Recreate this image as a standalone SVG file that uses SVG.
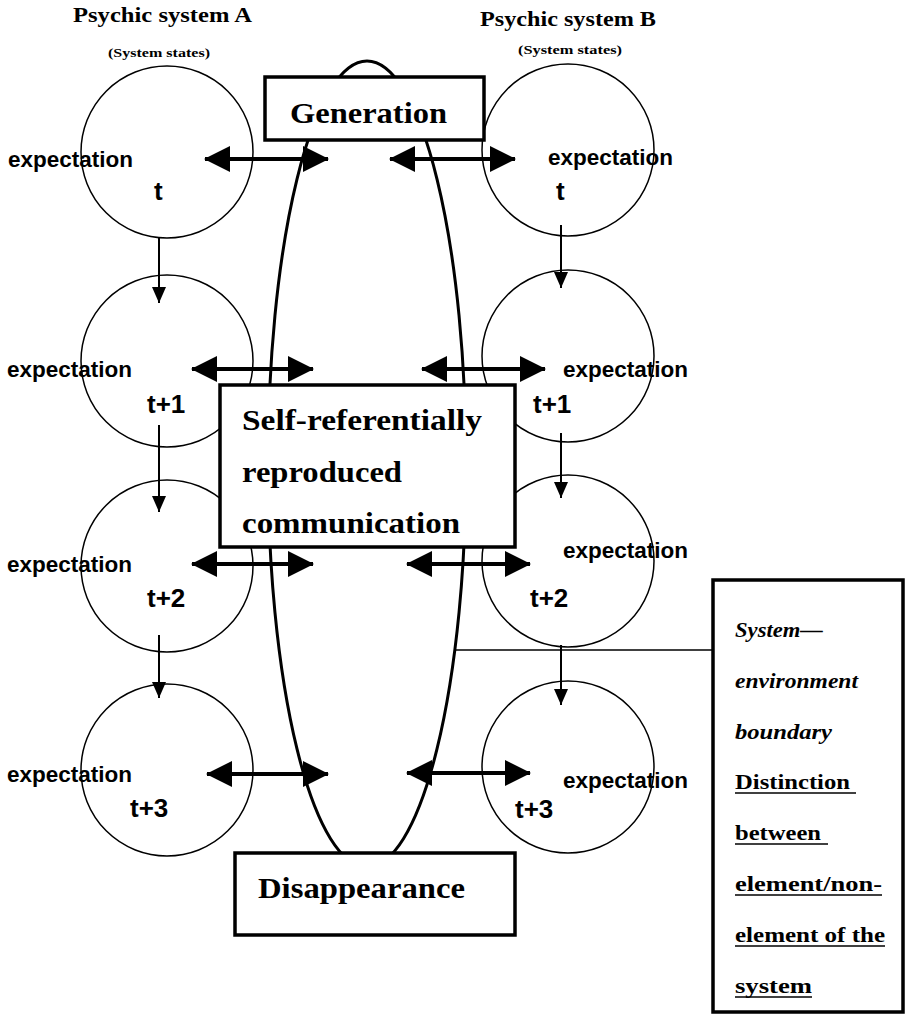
<svg xmlns="http://www.w3.org/2000/svg" width="906" height="1015" viewBox="0 0 906 1015">
  <style>
    .serif { font-family: "Liberation Serif", "Times New Roman", serif; font-weight: bold; fill: #000; }
    .sans { font-family: "Liberation Sans", Arial, sans-serif; font-weight: bold; fill: #000; }
    .state { fill: none; stroke: #000; stroke-width: 1.5; }
    .box { fill: #fff; stroke: #000; stroke-width: 3.5; }
    .lens { fill: none; stroke: #000; stroke-width: 3; }
    .flow { stroke: #000; stroke-width: 2; fill: none; }
    .link { stroke: #000; stroke-width: 4; fill: none; }
    .ul { stroke: #000; stroke-width: 1.5; }
  </style>
  <defs>
    <marker id="head-big" viewBox="0 0 26 26" refX="25" refY="13" markerWidth="26" markerHeight="26" markerUnits="userSpaceOnUse" orient="auto-start-reverse">
      <path d="M0,0 L26,13 L0,26 Z" fill="#000"/>
    </marker>
    <marker id="head-small" viewBox="0 0 16 14" refX="16" refY="7" markerWidth="16" markerHeight="14" markerUnits="userSpaceOnUse" orient="auto">
      <path d="M0,0 L16,7 L0,14 Z" fill="#000"/>
    </marker>
  </defs>
  <rect width="906" height="1015" fill="#fff"/>

  <!-- column headers -->
  <g id="header-a">
    <text class="serif" x="73" y="22" font-size="20" textLength="179" lengthAdjust="spacingAndGlyphs">Psychic system A</text>
    <text class="serif" x="108" y="57" font-size="13" textLength="102" lengthAdjust="spacingAndGlyphs">(System states)</text>
  </g>
  <g id="header-b">
    <text class="serif" x="480" y="26" font-size="20" textLength="176" lengthAdjust="spacingAndGlyphs">Psychic system B</text>
    <text class="serif" x="518" y="54" font-size="13" textLength="104" lengthAdjust="spacingAndGlyphs">(System states)</text>
  </g>

  <!-- communication system boundary (lens) -->
  <g id="boundary">
    <ellipse class="lens" cx="367" cy="464" rx="99" ry="403"/>
  </g>

  <!-- system states of psychic system A -->
  <g id="a-t">
    <circle class="state" cx="167" cy="152" r="86"/>
    <text class="sans" x="8" y="167" font-size="22.5">expectation</text>
    <text class="sans" x="154" y="200" font-size="26">t</text>
  </g>
  <g id="a-t1">
    <circle class="state" cx="167" cy="361" r="86"/>
    <text class="sans" x="7" y="377" font-size="22.5">expectation</text>
    <text class="sans" x="147" y="413" font-size="26">t+1</text>
  </g>
  <g id="a-t2">
    <circle class="state" cx="167" cy="566" r="86"/>
    <text class="sans" x="7" y="572" font-size="22.5">expectation</text>
    <text class="sans" x="147" y="607" font-size="26">t+2</text>
  </g>
  <g id="a-t3">
    <circle class="state" cx="167" cy="770" r="86"/>
    <text class="sans" x="7" y="782" font-size="22.5">expectation</text>
    <text class="sans" x="130" y="817" font-size="26">t+3</text>
  </g>

  <!-- system states of psychic system B -->
  <g id="b-t">
    <circle class="state" cx="568" cy="150" r="86"/>
    <text class="sans" x="548" y="165" font-size="22.5">expectation</text>
    <text class="sans" x="556" y="200" font-size="26">t</text>
  </g>
  <g id="b-t1">
    <circle class="state" cx="568" cy="356" r="86"/>
    <text class="sans" x="563" y="377" font-size="22.5">expectation</text>
    <text class="sans" x="533" y="413" font-size="26">t+1</text>
  </g>
  <g id="b-t2">
    <circle class="state" cx="568" cy="561" r="86"/>
    <text class="sans" x="563" y="558" font-size="22.5">expectation</text>
    <text class="sans" x="530" y="607" font-size="26">t+2</text>
  </g>
  <g id="b-t3">
    <circle class="state" cx="568" cy="767" r="86"/>
    <text class="sans" x="563" y="788" font-size="22.5">expectation</text>
    <text class="sans" x="515" y="818" font-size="26">t+3</text>
  </g>

  <!-- connectors -->
  <g id="connectors">
    <!-- state succession -->
    <line class="flow" x1="159" y1="238" x2="159" y2="303" marker-end="url(#head-small)"/>
    <line class="flow" x1="159" y1="425" x2="159" y2="512" marker-end="url(#head-small)"/>
    <line class="flow" x1="159" y1="635" x2="159" y2="698" marker-end="url(#head-small)"/>
    <line class="flow" x1="561" y1="225" x2="561" y2="288" marker-end="url(#head-small)"/>
    <line class="flow" x1="561" y1="433" x2="561" y2="498" marker-end="url(#head-small)"/>
    <line class="flow" x1="561" y1="645" x2="561" y2="705" marker-end="url(#head-small)"/>
    <!-- structural coupling across the boundary -->
    <line class="link" x1="205" y1="159" x2="328" y2="159" marker-start="url(#head-big)" marker-end="url(#head-big)"/>
    <line class="link" x1="390" y1="159" x2="515" y2="159" marker-start="url(#head-big)" marker-end="url(#head-big)"/>
    <line class="link" x1="192" y1="369" x2="313" y2="369" marker-start="url(#head-big)" marker-end="url(#head-big)"/>
    <line class="link" x1="422" y1="369" x2="545" y2="369" marker-start="url(#head-big)" marker-end="url(#head-big)"/>
    <line class="link" x1="192" y1="564" x2="313" y2="564" marker-start="url(#head-big)" marker-end="url(#head-big)"/>
    <line class="link" x1="407" y1="564" x2="530" y2="564" marker-start="url(#head-big)" marker-end="url(#head-big)"/>
    <line class="link" x1="207" y1="774" x2="328" y2="774" marker-start="url(#head-big)" marker-end="url(#head-big)"/>
    <line class="link" x1="407" y1="773" x2="530" y2="773" marker-start="url(#head-big)" marker-end="url(#head-big)"/>
    <!-- callout to the boundary note -->
    <line x1="455" y1="650" x2="713" y2="650" stroke="#000" stroke-width="1.5"/>
  </g>

  <!-- communication system boxes -->
  <g id="generation">
    <rect class="box" x="265" y="77" width="219" height="63"/>
    <text class="serif" x="290" y="123" font-size="29" textLength="157" lengthAdjust="spacingAndGlyphs">Generation</text>
  </g>
  <g id="communication">
    <rect class="box" x="220" y="385" width="295" height="162"/>
    <text class="serif" x="242" y="430" font-size="29" textLength="240" lengthAdjust="spacingAndGlyphs">Self-referentially</text>
    <text class="serif" x="242" y="482" font-size="29" textLength="160" lengthAdjust="spacingAndGlyphs">reproduced</text>
    <text class="serif" x="242" y="533" font-size="29" textLength="218" lengthAdjust="spacingAndGlyphs">communication</text>
  </g>
  <g id="disappearance">
    <rect class="box" x="235" y="853" width="280" height="82"/>
    <text class="serif" x="258" y="898" font-size="29" textLength="207" lengthAdjust="spacingAndGlyphs">Disappearance</text>
  </g>

  <!-- boundary note -->
  <g id="boundary-note">
    <rect class="box" x="713" y="580" width="190" height="432"/>
    <text class="serif" x="735" y="637" font-size="21" font-style="italic" textLength="88" lengthAdjust="spacingAndGlyphs">System—</text>
    <text class="serif" x="735" y="688" font-size="21" font-style="italic" textLength="123" lengthAdjust="spacingAndGlyphs">environment</text>
    <text class="serif" x="735" y="739" font-size="21" font-style="italic" textLength="97" lengthAdjust="spacingAndGlyphs">boundary</text>
    <text class="serif" x="735" y="789" font-size="21" textLength="115" lengthAdjust="spacingAndGlyphs">Distinction</text>
    <line class="ul" x1="735" y1="793" x2="856" y2="793"/>
    <text class="serif" x="735" y="840" font-size="21" textLength="86" lengthAdjust="spacingAndGlyphs">between</text>
    <line class="ul" x1="735" y1="844" x2="828" y2="844"/>
    <text class="serif" x="735" y="891" font-size="21" textLength="147" lengthAdjust="spacingAndGlyphs">element/non-</text>
    <line class="ul" x1="735" y1="895" x2="882" y2="895"/>
    <text class="serif" x="735" y="942" font-size="21" textLength="150" lengthAdjust="spacingAndGlyphs">element of the</text>
    <line class="ul" x1="735" y1="946" x2="885" y2="946"/>
    <text class="serif" x="735" y="993" font-size="21" textLength="77" lengthAdjust="spacingAndGlyphs">system</text>
    <line class="ul" x1="735" y1="997" x2="812" y2="997"/>
  </g>
</svg>
